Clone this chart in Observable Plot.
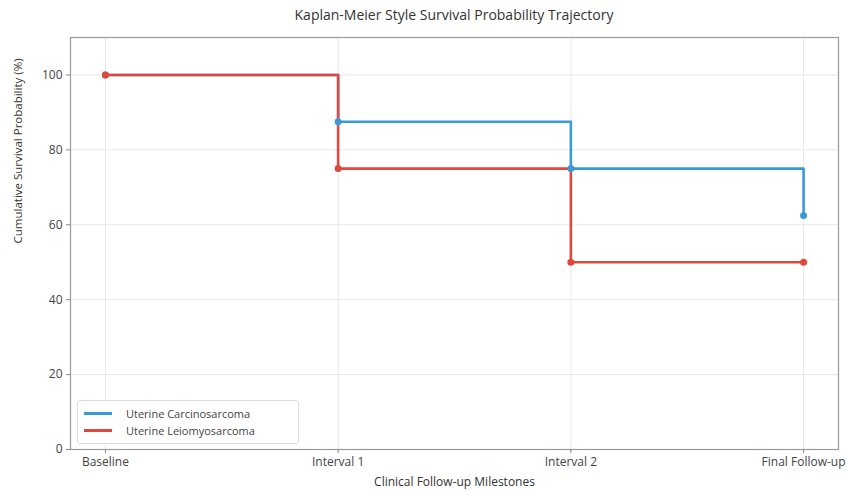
<!DOCTYPE html>
<html><head><meta charset="utf-8">
<script src="https://cdn.jsdelivr.net/npm/d3@7"></script>
<script src="https://cdn.jsdelivr.net/npm/@observablehq/plot@0.6"></script>
<style>
body{margin:0;background:#fff;font-family:"Open Sans",sans-serif;}
#wrap{position:relative;width:858px;height:491px;}
#title{height:28px;line-height:29px;font-size:14px;color:#333;text-align:center;width:858px;padding-left:50px;box-sizing:border-box;}
#legend{position:absolute;left:77px;top:400px;width:220px;height:42px;border:1px solid #ddd;border-radius:3px;background:rgba(255,255,255,0.85);font-size:11px;color:#444;}
.item{position:absolute;left:6px;display:flex;align-items:center;}
.sw{width:28px;height:3px;margin-right:14px;}
</style></head>
<body><div id="wrap"><div id="title">Kaplan-Meier Style Survival Probability Trajectory</div><div id="chart"></div>
<div id="legend"></div></div>
<script>
const milestones = ["Baseline","Interval 1","Interval 2","Final Follow-up"];
const seriesNames = ["Uterine Carcinosarcoma","Uterine Leiomyosarcoma"];
const carcinosarcoma = [100, 87.5, 75, 62.5];
const leiomyosarcoma = [100, 75, 50, 50];
const colors = ["#3a9ad9","#e0483e"];
const yTicks = [0,20,40,60,80,100];

const data = [];
[carcinosarcoma, leiomyosarcoma].forEach((vals, s) => vals.forEach((v, i) => data.push({series: seriesNames[s], i, v})));

const chart = Plot.plot({
  width: 858, height: 463,
  marginTop: 9, marginBottom: 42, marginLeft: 70, marginRight: 20,
  style: {fontFamily: "Open Sans, sans-serif", fontSize: "12px", color: "#444"},
  x: {domain: [-0.15, 3.15], ticks: [0,1,2,3], tickFormat: i => milestones[i], label: null, tickSize: 4},
  y: {domain: [0, 110], ticks: yTicks, label: null, tickSize: 4},
  color: {domain: seriesNames, range: colors},
  marks: [
    Plot.gridX([0,1,2,3], {stroke: "#e8e8e8", strokeOpacity: 1}),
    Plot.gridY(yTicks, {stroke: "#e8e8e8", strokeOpacity: 1}),
    Plot.frame({stroke: "#999", strokeWidth: 1.2}),
    Plot.axisX({ticks:[0,1,2,3], tickFormat: i => milestones[i], tickSize: 4, tickPadding: 4, fontSize: 12, stroke:"#888", fill:"#444", label: null}),
    Plot.axisY({ticks: yTicks, tickSize: 4, tickPadding: 4, fontSize: 12, stroke:"#888", fill:"#444", label: null}),
    Plot.line(data, {x: "i", y: "v", z: "series", stroke: "series", curve: "step-after", strokeWidth: 2.6}),
    Plot.dot(data, {x: "i", y: "v", fill: "series", r: 3.5}),
    Plot.text(["Clinical Follow-up Milestones"], {frameAnchor: "bottom", dy: 36, fontSize: 12, fill: "#333", text: d => d}),
    Plot.text(["Cumulative Survival Probability (%)"], {frameAnchor: "left", dx: -52, rotate: -90, fontSize: 11.5, fill: "#333", text: d => d})
  ]
});
document.getElementById("chart").appendChild(chart);

const lg = document.getElementById("legend");
seriesNames.forEach((n, k) => {
  const d = document.createElement("div");
  d.className = "item"; d.style.top = (5 + k*17) + "px";
  d.innerHTML = `<div class="sw" style="background:${colors[k]}"></div><span>${n}</span>`;
  lg.appendChild(d);
});
</script></body></html>
